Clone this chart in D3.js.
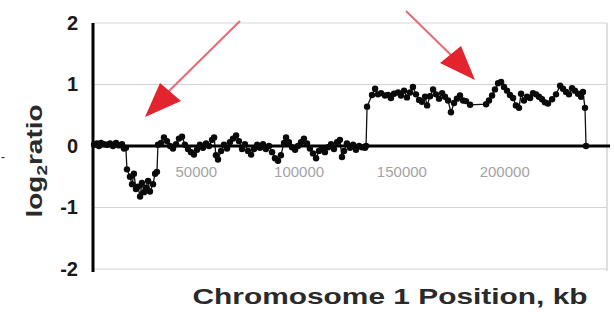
<!DOCTYPE html>
<html>
<head>
<meta charset="utf-8">
<script src="https://cdn.jsdelivr.net/npm/d3@7"></script>
<style>
  body { margin: 0; background: #fff; }
  text { font-family: "Liberation Sans", Arial, sans-serif; }
  .ytick text { font-weight: bold; font-size: 20px; fill: #1a1a1a; }
  .xtick text { font-size: 15px; fill: #a3a3a3; }
  .title { font-weight: bold; font-size: 22px; fill: #2a2a2a; }
</style>
</head>
<body>
<div id="chart"></div>
<script>
// chromosome 1 positions (kb) and log2 ratios
var positions = [
  500, 1900, 2900, 3900, 5300, 6800, 8300, 9700, 11200, 12600, 14100, 15100, 16000,
  16500, 18000, 19000, 19900, 20900, 21900, 22900, 23800, 24800, 25800, 26800, 27700, 29200, 30200, 31100,
  31600, 33100, 34500, 36000, 37500, 38900, 40400, 41800, 43300, 44700, 46200, 47700, 49100, 50600,
  52000, 53500, 55000, 56400, 57900, 58900, 59800, 60800, 62300, 63700, 65200, 66600, 68100, 69600,
  71000, 72500, 73900, 75400, 76900, 78300, 79800, 81200, 82700, 84100, 85600, 87100, 88500, 90000,
  91400, 92900, 93900, 95300, 96800, 98300, 99700, 101200, 102600, 104100, 105500, 107000, 108500,
  109900, 111400, 112800, 114300, 115800, 117200, 118700, 120100, 121100, 122100, 123500, 125000,
  126500, 127900, 129400, 130800,
  132300, 132800, 133300, 135700, 137200, 138600, 140100, 142000, 143500, 144900, 146400, 148400,
  149800, 151300, 152700, 154200, 155600, 157100, 158600, 160000, 161500, 162500, 163900, 165400,
  166800, 168300, 169800, 171200, 172700, 174100, 175600, 177000, 178500, 180000, 181400, 183400,
  191200, 192600, 194100, 195500, 197000, 198500, 199900, 201400, 202800, 204300, 205700, 207200,
  208200, 209600, 211100, 212600, 214000, 215500, 216900, 218400, 219800, 221300, 223300, 225200,
  227200, 228600, 230100, 231500, 233000, 234400, 235900, 237400, 238300, 239300, 239800
];
var ratios = [
  0.02, 0.04, 0.0, 0.05, 0.03, 0.02, 0.04, 0.0, 0.05, 0.01, 0.03, -0.04, -0.03,
  -0.38, -0.5, -0.62, -0.45, -0.7, -0.66, -0.82, -0.6, -0.75, -0.68, -0.57, -0.74, -0.62, -0.45, -0.42,
  0.02, 0.05, 0.14, 0.08, 0.0, -0.04, 0.03, 0.12, 0.15, 0.02, -0.05, -0.1, -0.14, -0.06,
  0.02, -0.03, 0.04, 0.0, 0.1, 0.14, -0.15, -0.22, -0.08, 0.02, -0.04, 0.06, 0.12, 0.17,
  0.08, -0.05, 0.03, -0.08, -0.14, -0.05, 0.02, -0.03, 0.03, -0.05, 0.0, -0.1, -0.2, -0.24,
  -0.15, 0.05, 0.14, 0.06, -0.02, -0.06, 0.0, 0.06, 0.12, 0.04, -0.04, -0.12, -0.2,
  -0.08, -0.04, -0.1, -0.02, 0.03, -0.05, 0.06, 0.1, -0.18, -0.08, 0.04, -0.03,
  0.02, -0.06, 0.0, -0.02,
  -0.03, 0.0, 0.64, 0.83, 0.93, 0.84, 0.86, 0.82, 0.83, 0.78, 0.85, 0.87,
  0.82, 0.9, 0.79, 0.87, 0.96, 0.84, 0.75, 0.72, 0.8, 0.66, 0.81, 0.92,
  0.84, 0.77, 0.86, 0.8, 0.74, 0.55, 0.7, 0.77, 0.82, 0.74, 0.73, 0.67,
  0.68, 0.74, 0.82, 0.92, 1.02, 1.04, 0.96, 0.9, 0.83, 0.78, 0.66, 0.62,
  0.85, 0.74, 0.8, 0.78, 0.86, 0.84, 0.8, 0.76, 0.71, 0.69, 0.76, 0.84,
  0.98, 0.93, 0.88, 0.84, 0.94, 0.9, 0.85, 0.8, 0.88, 0.62, 0.0
];
var yTicks = [-2, -1, 0, 1, 2];
var xTicks = [50000, 100000, 150000, 200000];

var svg_w = 614, svg_h = 312;
var svg = d3.select("#chart").append("svg")
    .attr("width", svg_w)
    .attr("height", svg_h);

var x = d3.scaleLinear().domain([0, 250000]).range([93, 607]);
var y = d3.scaleLinear().domain([-2, 2]).range([269, 23]);

var data = positions.map(function(p, i) { return {pos: p, val: ratios[i]}; });

//gridlines
svg.append("g").selectAll("line")
    .data(yTicks.filter(function(d) { return d !== 0; }))
    .enter().append("line")
    .attr("x1", x(0)).attr("x2", x.range()[1])
    .attr("y1", function(d) { return y(d); })
    .attr("y2", function(d) { return y(d); })
    .attr("stroke", "#d4d4d4").attr("stroke-width", 1.2);

//right border
svg.append("line")
    .attr("x1", x.range()[1]).attr("x2", x.range()[1])
    .attr("y1", y(2)).attr("y2", y(-2) + 2)
    .attr("stroke", "#d4d4d4").attr("stroke-width", 1.5);

//y tick labels
svg.append("g")
    .attr("class", "ytick")
    .attr("transform", "translate(" + x(0) + ",0)")
    .call(d3.axisLeft(y).tickValues(yTicks).tickSize(0).tickPadding(15)
        .tickFormat(function(d) { return String(d); }))
    .call(function(g) { g.select(".domain").remove(); });

//x tick labels
svg.append("g")
    .attr("class", "xtick")
    .attr("transform", "translate(0," + y(0) + ")")
    .call(d3.axisBottom(x).tickValues(xTicks).tickSize(0).tickPadding(20)
        .tickFormat(function(d) { return String(d); }))
    .call(function(g) { g.select(".domain").remove(); });

//data line + markers
var line = d3.line()
    .x(function(d) { return x(d.pos); })
    .y(function(d) { return y(d.val); });

svg.append("path")
    .datum(data)
    .attr("d", line)
    .attr("fill", "none")
    .attr("stroke", "#111")
    .attr("stroke-width", 1.3);

//zero axis and y axis
svg.append("line")
    .attr("x1", x(0)).attr("x2", 610)
    .attr("y1", y(0)).attr("y2", y(0))
    .attr("stroke", "#000").attr("stroke-width", 3);

svg.append("line")
    .attr("x1", x(0)).attr("x2", x(0))
    .attr("y1", y(2)).attr("y2", y(-2) + 3)
    .attr("stroke", "#000").attr("stroke-width", 3);

svg.append("g").selectAll("circle")
    .data(data)
    .enter().append("circle")
    .attr("cx", function(d) { return x(d.pos); })
    .attr("cy", function(d) { return y(d.val); })
    .attr("r", 3.2)
    .attr("fill", "#0a0a0a");

//red arrows
var arrows = [
  {line: [[240, 21], [166, 94]], head: [[160, 83], [181, 101], [145, 117]]},
  {line: [[406, 11], [452, 56]], head: [[461, 46], [440, 63], [475, 80]]}
];
arrows.forEach(function(a) {
  svg.append("line")
      .attr("x1", a.line[0][0]).attr("y1", a.line[0][1])
      .attr("x2", a.line[1][0]).attr("y2", a.line[1][1])
      .attr("stroke", "#e66a74").attr("stroke-width", 2);
  svg.append("path")
      .attr("d", "M" + a.head.join("L") + "Z")
      .attr("fill", "#e3242e");
});

//axis titles
svg.append("text")
    .attr("class", "title")
    .attr("x", 390).attr("y", 304)
    .attr("text-anchor", "middle")
    .attr("textLength", 395)
    .attr("lengthAdjust", "spacingAndGlyphs")
    .text("Chromosome 1 Position, kb");

var yt = svg.append("text")
    .attr("class", "title")
    .attr("transform", "translate(42,161) rotate(-90)")
    .attr("text-anchor", "middle")
    .attr("textLength", 113)
    .attr("lengthAdjust", "spacingAndGlyphs");
yt.append("tspan").text("log");
yt.append("tspan").attr("font-size", "15px").attr("dy", 5).text("2");
yt.append("tspan").attr("dy", -5).text("ratio");

//small stray mark at the left edge
svg.append("text")
    .attr("x", 1).attr("y", 161)
    .attr("font-size", "12px")
    .attr("fill", "#222")
    .text("-");
</script>
</body>
</html>
